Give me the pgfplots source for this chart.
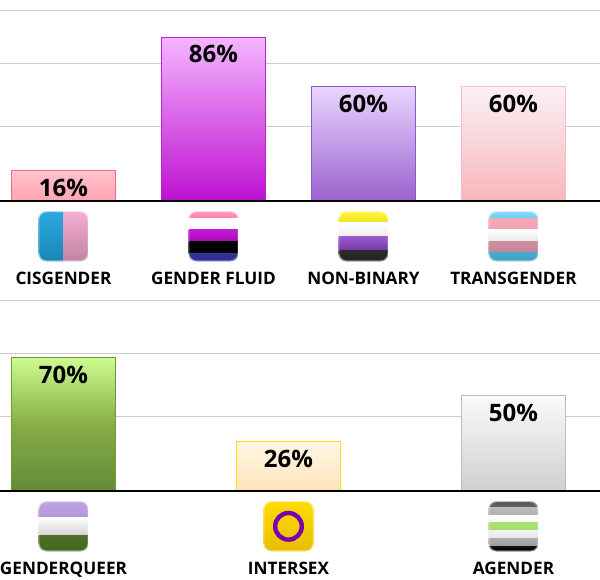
\documentclass[border=0pt]{standalone}
\usepackage{pgfplots}
\pgfplotsset{compat=1.18}
\usepackage{fontspec}
\setmainfont{Open Sans}

% bar colours: edge, top, bottom
\definecolor{cisE}{HTML}{F4668A}\definecolor{cisT}{HTML}{FFC4CE}\definecolor{cisB}{HTML}{FFA3AF}
\definecolor{gfE}{HTML}{B524C8}\definecolor{gfT}{HTML}{F4B6FF}\definecolor{gfB}{HTML}{BE10D0}
\definecolor{nbE}{HTML}{8E58CC}\definecolor{nbT}{HTML}{E9D4FF}\definecolor{nbB}{HTML}{9A62CE}
\definecolor{trE}{HTML}{F6BCC8}\definecolor{trT}{HTML}{FBF0F4}\definecolor{trB}{HTML}{F7B6BB}
\definecolor{gqE}{HTML}{6E9A32}\definecolor{gqT}{HTML}{CDFB90}\definecolor{gqM}{HTML}{86AE45}\definecolor{gqB}{HTML}{648A38}
\definecolor{inE}{HTML}{FFD81A}\definecolor{inT}{HTML}{FFF7E6}\definecolor{inB}{HTML}{FFE2B8}
\definecolor{agE}{HTML}{BDBDBD}\definecolor{agT}{HTML}{FAFAFA}\definecolor{agB}{HTML}{CFCFCF}
\definecolor{ringc}{HTML}{7800B0}

\pgfplotsset{
  panel/.style={
    scale only axis,
    width=450pt,
    height=150.75pt,
    ymin=0,ymax=105.2,
    clip=false,
    axis x line*=bottom,
    axis y line*=left,
    y axis line style={draw=none},
    x axis line style={black,line width=1.5pt,-},
    ytick={39.1,72.1,99.8},
    yticklabels={},
    ymajorgrids,
    grid style={color=black!20,line width=.75pt},
    major tick length=0pt,
    xticklabel style={font=\fontsize{12.9}{14}\bfseries,anchor=base,yshift=-62.6pt},
    /pgf/number format/assume math mode=true,
  },
  onebar/.style n args={3}{
    ybar,bar shift=0pt,bar width=78pt,line width=.75pt,
    draw=#1,top color=#2,bottom color=#3,
    nodes near coords={\pgfmathprintnumber{\pgfplotspointmeta}\%},
    every node near coord/.append style={
      font=\fontsize{18}{20}\bfseries,text=black,anchor=center,yshift=-12.9pt},
  },
}

% stripes are x0/x1/y0/y1/top colour/bottom colour, in px from the icon's corner
\newcommand{\flagicon}[3][]{%
  \begin{scope}[shift={(#2)},x=.75pt,y=-.75pt,shift={(-25,10)}]
    \begin{scope}
      \clip[rounded corners=6pt] (0,0) rectangle (50,50);
      \foreach \xa/\xb/\ya/\yb/\ct/\cb in {#3}{
        \definecolor{ct}{HTML}{\ct}\definecolor{cb}{HTML}{\cb}
        \shade[top color=ct,bottom color=cb,shading angle=0] (\xa,\ya) rectangle (\xb,\yb);
      }
      #1
    \end{scope}
    \draw[rounded corners=6pt,white,opacity=.45,line width=.75pt] (.4,.4) rectangle (49.6,49.6);
  \end{scope}}

\begin{document}
\begin{tikzpicture}
\path[use as bounding box] (0,0) rectangle (450pt,435pt);

\begin{axis}[panel,at={(0,284pt)},anchor=south west,
  xmin=-0.42333,xmax=3.57667,
  xtick={0,1,2,3},
  xticklabels={CISGENDER,GENDER FLUID,NON-BINARY,TRANSGENDER}]
\addplot[onebar={cisE}{cisT}{cisB}] coordinates {(0,16)};
\addplot[onebar={gfE}{gfT}{gfB}] coordinates {(1,86)};
\addplot[onebar={nbE}{nbT}{nbB}] coordinates {(2,60)};
\addplot[onebar={trE}{trT}{trB}] coordinates {(3,60)};
\draw[black,line width=1.5pt] (rel axis cs:0,0) -- (rel axis cs:1,0); % baseline over the bars
\coordinate (t0) at (axis cs:0,0);
\coordinate (t1) at (axis cs:1,0);
\coordinate (t2) at (axis cs:2,0);
\coordinate (t3) at (axis cs:3,0);
\end{axis}

\begin{axis}[panel,at={(0,66.5pt)},anchor=south west,
  xmin=-0.28222,xmax=2.38444,
  xtick={0,1,2},
  xticklabels={GENDERQUEER,INTERSEX,AGENDER}]
\addplot[onebar={gqE}{gqT}{gqB},middle color=gqM] coordinates {(0,70)};
\addplot[onebar={inE}{inT}{inB}] coordinates {(1,26)};
\addplot[onebar={agE}{agT}{agB}] coordinates {(2,50)};
\draw[black,line width=1.5pt] (rel axis cs:0,0) -- (rel axis cs:1,0);
\coordinate (b0) at (axis cs:0,0);
\coordinate (b1) at (axis cs:1,0);
\coordinate (b2) at (axis cs:2,0);
\end{axis}

\flagicon{t0}{0/25/0/50/2BA8E0/1A86B6,25/50/0/50/F5ADD0/BF85A2}
\flagicon{t1}{0/50/0/7.3/FF9ABA/FF7FA8,0/50/7.3/18.3/FFFFFF/FAFAFA,0/50/18.3/30/C21ADA/A80CB0,0/50/30/41.7/000000/000000,0/50/41.7/50/333399/2A2A8E}
\flagicon{t2}{0/50/0/11.3/FFF640/F5E020,0/50/11.3/25/FFFFFF/EEEEEE,0/50/25/39.3/9C5CD0/7436A4,0/50/39.3/50/2C2C2C/222222}
\flagicon{t3}{0/50/0/7.3/8ADBF5/66CCEE,0/50/7.3/18.3/F5A9B8/F0A4B6,0/50/18.3/30/FFFFFF/E8E8E8,0/50/30/41/CC8FA2/C08498,0/50/41/50/45A8CC/44A0C4}
\flagicon{b0}{0/50/0/15.7/BFA2E0/B497D8,0/50/15.7/34/FFFFFF/D4D4D4,0/50/34/50/4E7029/47651F}
\flagicon[{\draw[ringc,line width=3.3pt] (25,25) circle (13.3);}]{b1}{0/50/0/50/FFDC00/E6BE00}
\flagicon{b2}{0/50/0/5.7/555555/666666,0/50/5.7/14/BCBCBC/B0B0B0,0/50/14/21.3/FFFFFF/F4F4F4,0/50/21.3/29/A8E272/A4DE6E,0/50/29/36.7/F2F2F2/E6E6E6,0/50/36.7/44.7/ACACAC/9E9E9E,0/50/44.7/50/111111/000000}
\end{tikzpicture}
\end{document}
